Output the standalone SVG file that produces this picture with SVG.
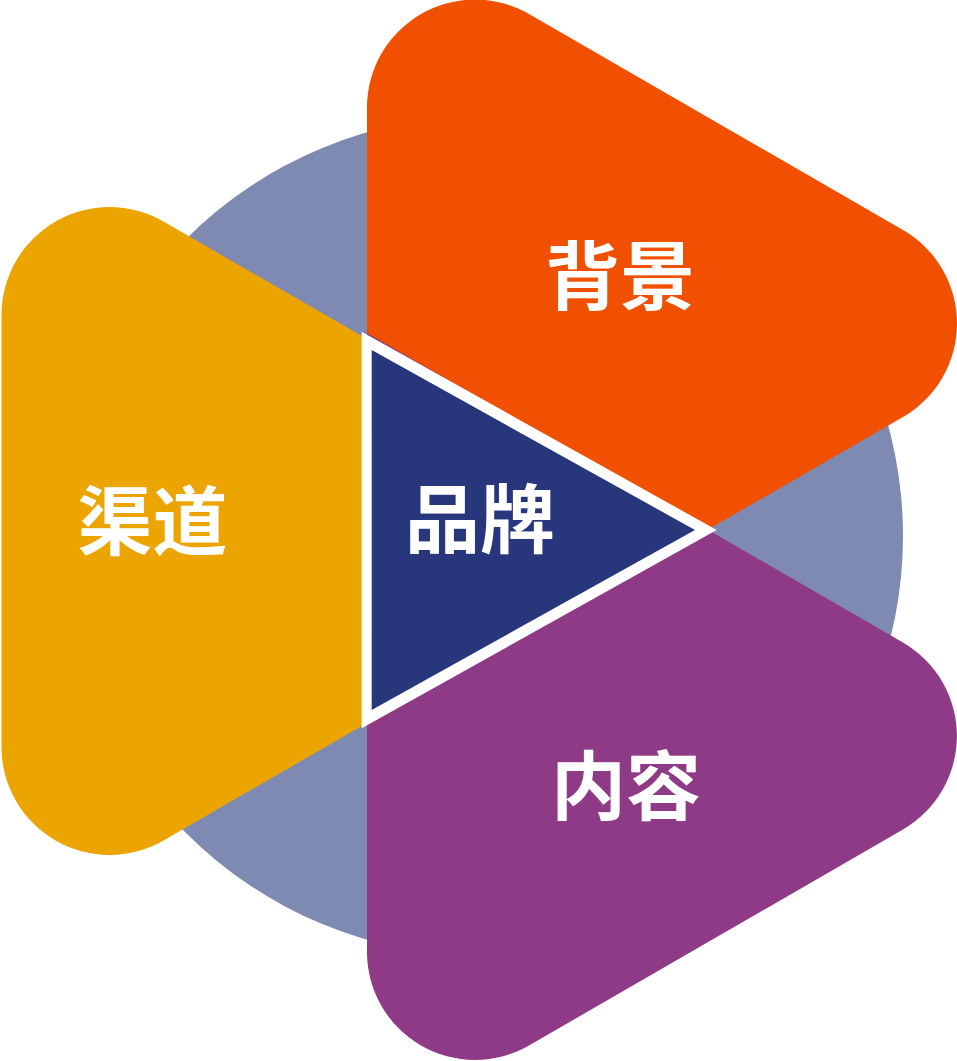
<svg xmlns="http://www.w3.org/2000/svg" width="957" height="1061" viewBox="0 0 957 1061">
  <style>
    .lbl { font-family: "Noto Sans CJK SC", "Noto Sans", sans-serif; font-weight: 700; font-size: 75px; fill: #ffffff; text-anchor: middle; dominant-baseline: central; }
  </style>
  <rect width="957" height="1061" fill="#ffffff"/>
  <g id="ring">
    <circle cx="483" cy="536" r="420" fill="#7f8ab2"/>
  </g>
  <g id="node-qudao">
    <path d="M 699.5 531 L 163.5 840.47 A 108 108 0 0 1 1.5 746.94 L 1.5 315.06 A 108 108 0 0 1 163.5 221.53 Z" fill="#eba400"/>
    <text class="lbl" x="152.5" y="516">渠道</text>
  </g>
  <g id="node-beijing">
    <path d="M 367 726.5 L 367 107.56 A 108 108 0 0 1 529 14.03 L 903 229.97 A 108 108 0 0 1 903 417.03 Z" fill="#f05000"/>
    <text class="lbl" x="620" y="271">背景</text>
  </g>
  <g id="node-neirong">
    <path d="M 367 333 L 903 642.53 A 108 108 0 0 1 903 829.47 L 529 1045.47 A 108 108 0 0 1 367 951.94 Z" fill="#8f3a87"/>
    <text class="lbl" x="626" y="781">内容</text>
  </g>
  <g id="node-pinpai">
    <polygon points="361.7,331.7 716.7,530 361.7,728.3" fill="#ffffff"/>
    <polygon points="371.7,350 695,530 371.7,710" fill="#28377b"/>
    <text class="lbl" x="480" y="514">品牌</text>
  </g>
  <g id="connectors"/>
</svg>
